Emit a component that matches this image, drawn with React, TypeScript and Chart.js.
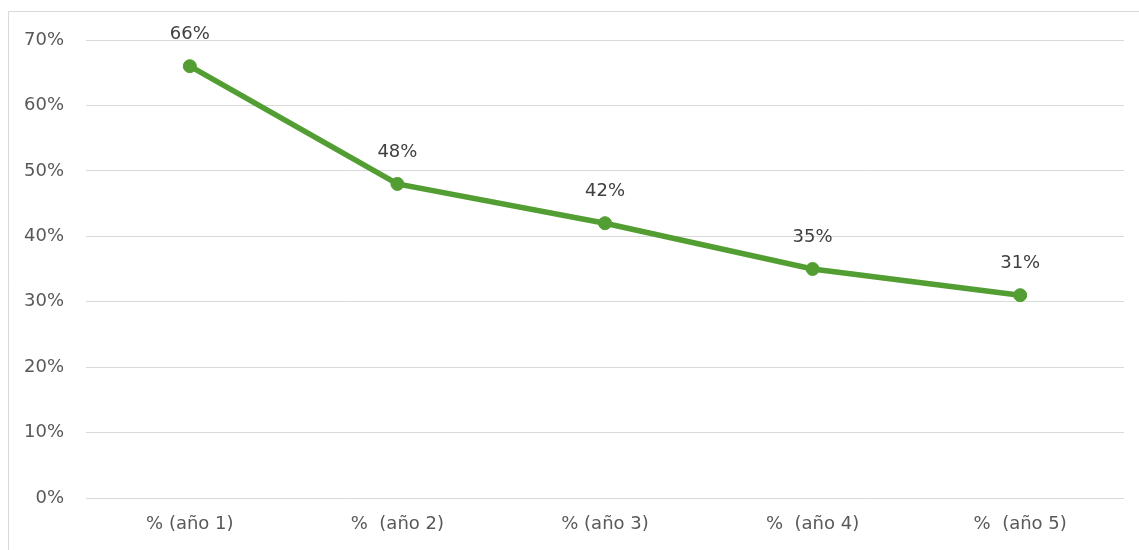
import React, { useEffect, useRef } from "react";
import { Chart, registerables } from "chart.js";

Chart.register(...registerables);

const categories = ["% (año 1)", "%  (año 2)", "% (año 3)", "%  (año 4)", "%  (año 5)"];
const values = [66, 48, 42, 35, 31];
const yMin = 0;
const yMax = 70;
const yStep = 10;

const FONT = "'DejaVu Sans', sans-serif";
const FSIZE = 18;
const GREEN = "#529E33";

const borderPlugin = {
  id: "outerBorder",
  beforeDraw(chart: any) {
    const ctx = chart.ctx;
    ctx.save();
    ctx.strokeStyle = "#d9d9d9";
    ctx.lineWidth = 1;
    ctx.beginPath();
    ctx.moveTo(8.5, chart.height + 5);
    ctx.lineTo(8.5, 11.5);
    ctx.lineTo(chart.width + 5, 11.5);
    ctx.stroke();
    ctx.restore();
  },
};

const labelPlugin = {
  id: "dataLabels",
  afterDatasetsDraw(chart: any) {
    const ctx = chart.ctx;
    const meta = chart.getDatasetMeta(0);
    ctx.save();
    ctx.font = `${FSIZE}px ${FONT}`;
    ctx.fillStyle = "#404040";
    ctx.textAlign = "center";
    ctx.textBaseline = "middle";
    meta.data.forEach((pt: any, i: number) => {
      ctx.fillText(values[i] + "%", pt.x, pt.y - 32);
    });
    ctx.restore();
  },
};

export default function App() {
  const ref = useRef<HTMLCanvasElement>(null);
  useEffect(() => {
    document.body.style.overflow = "hidden";
    const chart = new Chart(ref.current!, {
      type: "line",
      data: {
        labels: categories,
        datasets: [
          {
            data: values,
            borderColor: GREEN,
            backgroundColor: GREEN,
            borderWidth: 5.5,
            pointRadius: 6.5,
            pointBackgroundColor: GREEN,
            pointBorderColor: GREEN,
            pointBorderWidth: 1,
            tension: 0,
          },
        ],
      },
      options: {
        animation: false,
        responsive: true,
        maintainAspectRatio: false,
        layout: { padding: { left: 0, top: 40, right: 15, bottom: 0 } },
        plugins: { legend: { display: false }, tooltip: { enabled: false } },
        scales: {
          x: {
            type: "category",
            offset: true,
            grid: { display: false, drawTicks: false },
            border: { display: false },
            ticks: {
              padding: 16,
              color: "#595959",
              font: { family: FONT, size: FSIZE },
              maxRotation: 0,
            },
            afterFit: (s: any) => {
              s.height = 52;
            },
          },
          y: {
            min: yMin,
            max: yMax,
            grid: { color: "#d9d9d9", lineWidth: 1, drawTicks: false },
            border: { display: false },
            ticks: {
              stepSize: yStep,
              padding: 22,
              color: "#595959",
              font: { family: FONT, size: FSIZE },
              callback: (v: any) => v + "%",
            },
            afterFit: (s: any) => {
              s.width = 86;
            },
          },
        },
      },
      plugins: [borderPlugin, labelPlugin],
    });
    return () => chart.destroy();
  }, []);
  return (
    <div style={{ position: "fixed", left: 0, top: 0, width: 1139, height: 550 }}>
      <canvas ref={ref} />
    </div>
  );
}
